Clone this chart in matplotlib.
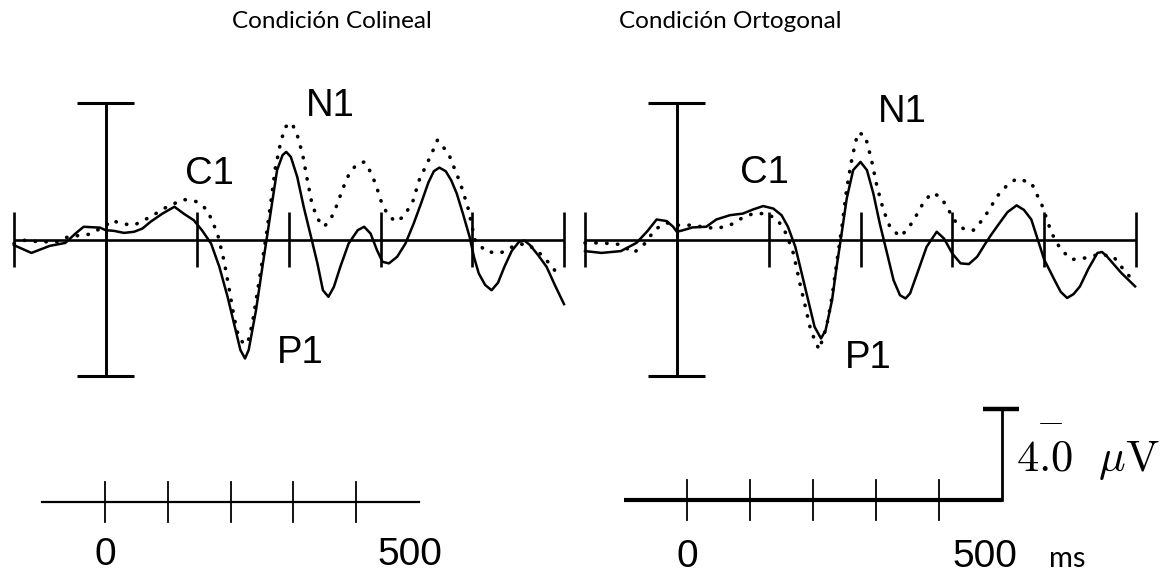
import numpy as np
import matplotlib
matplotlib.use("Agg")
import matplotlib.pyplot as plt

plt.rcParams['mathtext.fontset'] = 'cm'

# ---- data (time in ms, amplitude in uV, negative up) ----
titles = ["Condición Colineal", "Condición Ortogonal"]
peak_labels = ["C1", "N1", "P1"]

# Colineal, solid trace
t_col_solid = [-100, -81, -61, -44, -33, -24, -6, 0, 9, 20, 31, 40, 49, 62, 75, 85, 96, 105,
               115, 124, 133, 140, 147, 152, 156, 164, 171, 176, 182, 187, 193, 197, 202, 209,
               216, 224, 231, 237, 243, 249, 256, 265, 275, 282, 289, 296, 302, 309, 318, 327,
               336, 344, 352, 358, 364, 371, 377, 383, 390, 397, 402, 407, 414, 421, 428, 435,
               443, 451, 457, 463, 472, 481, 490, 500]
v_col_solid = [0.25, 0.59, 0.28, 0.15, -0.26, -0.56, -0.52, -0.41, -0.38, -0.29, -0.34, -0.48,
               -0.78, -1.14, -1.44, -1.14, -0.85, -0.41, 0.18, 1.20, 2.52, 3.69, 4.86, 5.23,
               4.86, 3.11, 1.20, -0.12, -1.73, -3.05, -3.71, -3.85, -3.63, -2.75, -1.44, -0.12,
               1.05, 2.23, 2.52, 2.08, 1.20, 0.18, -0.41, -0.56, -0.26, 0.47, 0.98, 1.05, 0.76,
               0.18, -0.70, -1.58, -2.50, -3.00, -3.16, -3.00, -2.60, -2.02, -1.10, -0.12, 0.80,
               1.49, 2.00, 2.23, 1.90, 1.20, 0.50, 0.10, 0.05, 0.25, 0.70, 1.20, 2.00, 2.84]

# Colineal, dotted trace
t_col_dot = [-100, -88, -73, -53, -41, -18, 0, 7, 16, 31, 49, 67, 85, 100, 111, 122, 129, 135,
             140, 145, 151, 155, 160, 167, 175, 180, 185, 191, 196, 203, 209, 215, 220, 225,
             231, 238, 245, 253, 258, 265, 273, 282, 289, 295, 300, 307, 316, 325, 335, 342,
             354, 362, 374, 387, 395, 403, 415, 431, 447, 459, 472, 484, 494]
v_col_dot = [0.18, 0.03, 0.10, 0.10, -0.12, -0.23, -0.60, -0.85, -0.70, -0.63, -1.00, -1.44,
             -1.76, -1.66, -1.29, -0.26, 0.91, 2.23, 3.40, 4.28, 4.60, 4.55, 3.69, 1.93, -0.12,
             -1.58, -3.12, -4.29, -4.95, -5.13, -4.59, -3.71, -2.61, -1.58, -0.92, -0.56, -0.85,
             -1.58, -2.17, -2.83, -3.27, -3.41, -2.97, -2.39, -1.73, -1.14, -0.78, -1.00, -1.66,
             -2.61, -3.63, -4.37, -3.78, -2.46, -1.44, 0.03, 0.54, 0.59, 0.25, 0.18, 0.54, 1.05,
             1.57]

# Ortogonal, solid trace
t_ort_solid = [-100, -82, -61, -44, -32, -22, -11, -4, 0, 7, 17, 32, 43, 58, 72, 83, 94, 105,
               114, 121, 129, 136, 143, 150, 157, 162, 169, 174, 180, 185, 192, 200, 207, 214,
               221, 229, 236, 243, 249, 254, 263, 272, 283, 291, 300, 309, 318, 327, 336, 342,
               349, 360, 370, 378, 386, 393, 400, 411, 418, 425, 432, 439, 448, 458, 463, 468,
               476, 484, 499]
v_ort_solid = [0.51, 0.59, 0.51, 0.15, -0.37, -0.88, -0.81, -0.56, -0.34, -0.41, -0.53, -0.56,
               -0.88, -1.07, -1.14, -1.32, -1.47, -1.36, -1.07, -0.56, 0.32, 1.49, 2.67, 3.84,
               4.35, 3.99, 2.67, 1.20, -0.41, -1.80, -3.05, -3.41, -3.05, -2.02, -0.70, 0.62,
               1.79, 2.45, 2.59, 2.37, 1.35, 0.32, -0.34, -0.04, 0.62, 1.05, 1.08, 0.76, 0.18,
               -0.19, -0.59, -1.20, -1.50, -1.30, -0.88, 0.00, 0.88, 1.76, 2.30, 2.57, 2.40, 2.06,
               1.30, 0.59, 0.55, 0.73, 1.10, 1.47, 2.06]

# Ortogonal, dotted trace
t_ort_dot = [-100, -82, -61, -47, -34, -24, -11, 0, 14, 28, 43, 58, 70, 83, 98, 110, 119, 127,
             134, 140, 145, 150, 155, 163, 169, 174, 180, 185, 191, 197, 205, 212, 218, 225,
             232, 243, 252, 262, 269, 278, 287, 294, 302, 313, 323, 334, 342, 349, 360, 370,
             386, 398, 408, 418, 430, 445, 459, 475, 488, 496]
v_ort_dot = [0.15, 0.15, 0.22, 0.59, 0.15, -0.44, -0.73, -0.63, -0.63, -0.56, -0.48, -0.63,
             -0.92, -1.14, -1.14, -0.85, -0.26, 0.62, 1.93, 2.96, 3.84, 4.42, 4.84, 3.84, 2.52,
             1.05, -0.63, -2.24, -3.63, -4.69, -4.59, -3.49, -2.32, -1.29, -0.56, -0.12, -0.48,
             -1.14, -1.66, -2.05, -1.88, -1.44, -0.85, -0.44, -0.41, -0.92, -1.44, -1.91, -2.40,
             -2.67, -2.50, -1.47, -0.29, 0.44, 0.88, 0.81, 0.66, 0.73, 1.40, 1.76]

# label positions (time, amplitude) per panel: C1, N1, P1
label_pos = [[(113, -2.9), (245, -5.85), (212, 5.0)],
             [(95, -2.94), (245, -5.6), (208, 5.2)]]

epoch_ticks = [-100, 100, 200, 300, 400, 500]
scale_ticks = [0, 100, 200, 300, 400]
scale_uv = 4.0

W, H = 1169, 574
fig = plt.figure(figsize=(W / 100, H / 100), dpi=100)

PX_PER_UV = 22.75


def px_axes(x0, x1, y0, y1):
    # rect given in image pixels, y measured from the top
    ax = fig.add_axes([x0 / W, 1 - y1 / H, (x1 - x0) / W, (y1 - y0) / H])
    ax.set_axis_off()
    return ax


def erp_panel(x0, x1, ts, vs, td, vd, labels):
    ax = px_axes(x0, x1, 103, 376)
    ax.set_xlim(-100, 500)
    ax.set_ylim(6, -6)  # negative up
    kw = dict(color='black', clip_on=False, solid_capstyle='butt')
    ax.plot([-100, 500], [0, 0], lw=1.9, **kw)
    for t in epoch_ticks:
        ax.plot([t, t], [-1.23, 1.23], lw=1.9, **kw)
    ax.plot([0, 0], [-6, 6], lw=2.1, **kw)
    ax.plot([-31, 31], [-6, -6], lw=2.2, **kw)
    ax.plot([-31, 31], [6, 6], lw=2.2, **kw)
    ax.plot(ts, vs, color='black', lw=1.8, clip_on=False, solid_joinstyle='round')
    ax.plot(td, vd, color='black', lw=2.6, clip_on=False,
            linestyle=(0, (0.1, 2.9)), dash_capstyle='round')
    for name, (t, v) in zip(peak_labels, labels):
        ax.text(t, v, name, ha='center', va='center', fontsize=27.5,
                family='Liberation Sans')
    return ax


erp_panel(14, 564, t_col_solid, v_col_solid, t_col_dot, v_col_dot, label_pos[0])
erp_panel(585, 1136, t_ort_solid, v_ort_solid, t_ort_dot, v_ort_dot, label_pos[1])


def scale_axes(x0, x1, base_y):
    ax = px_axes(x0, x1, 400, 574)
    ax.set_xlim(-100, 500)
    ax.set_ylim((574 - base_y) / PX_PER_UV, -(base_y - 400) / PX_PER_UV)
    return ax


# left time scale
sl = scale_axes(42, 419, 502)
sl.plot([-100, 500], [0, 0], color='black', lw=1.6, clip_on=False)
for t in scale_ticks:
    sl.plot([t, t], [-0.88, 0.88], color='black', lw=1.3, clip_on=False)
sl.text(0, 2.35, "0", ha='center', va='center', fontsize=28, family='Liberation Sans')
sl.text(486, 2.35, "500", ha='center', va='center', fontsize=28, family='Liberation Sans')

# right time + amplitude scale
sr = scale_axes(624, 1002, 500)
sr.plot([-100, 500], [0, 0], color='black', lw=3.0, clip_on=False, solid_capstyle='butt')
for t in scale_ticks:
    sr.plot([t, t], [-0.88, 0.88], color='black', lw=1.3, clip_on=False)
sr.plot([500, 500], [0, -scale_uv], color='black', lw=2.0, clip_on=False)
sr.plot([470, 527], [-scale_uv, -scale_uv], color='black', lw=3.2, clip_on=False,
        solid_capstyle='butt')
sr.text(0, 2.5, "0", ha='center', va='center', fontsize=28, family='Liberation Sans')
sr.text(473, 2.5, "500", ha='center', va='center', fontsize=28, family='Liberation Sans')
sr.text(603, 2.95, "ms", ha='center', va='baseline', fontsize=21, family='Lato')
sr.text(522, -1.75, r"$%.1f\ \ \mu\mathrm{V}$" % scale_uv, ha='left', va='center', fontsize=32)
sr.text(576, -3.5, r"$-$", ha='center', va='center', fontsize=26)

# panel titles
fig.text(332 / W, 1 - 22 / H, titles[0], ha='center', va='center', fontsize=17.5, family='Lato')
fig.text(730 / W, 1 - 22 / H, titles[1], ha='center', va='center', fontsize=17.5, family='Lato')

fig.savefig("out.png", dpi=100, facecolor='white')
